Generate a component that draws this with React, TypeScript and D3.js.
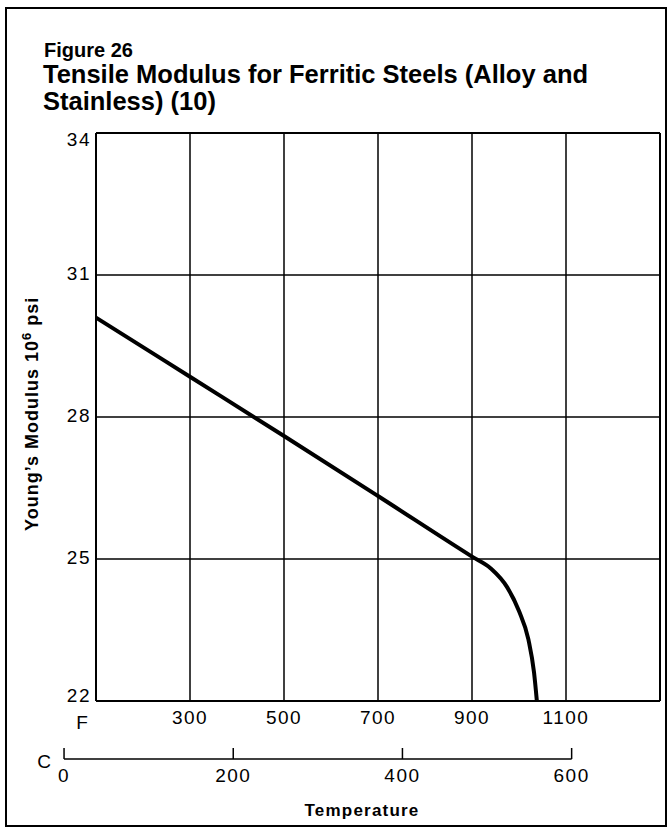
import React from "react";
import * as d3 from "d3";

// chart values
const tempF = [100, 300, 500, 700, 900, 940, 975, 1000, 1020, 1032, 1038];
const modulus = [30.1, 28.85, 27.6, 26.33, 25.05, 24.8, 24.4, 23.9, 23.3, 22.6, 22.0];

const fTicks = [300, 500, 700, 900, 1100];
const cTicks = [0, 200, 400, 600];
const yTicks = [22, 25, 28, 31, 34];

const titleLines = ["Tensile Modulus for Ferritic Steels (Alloy and", "Stainless) (10)"];

function App() {
  const width = 668;
  const height = 828;
  const margin = { top: 133, right: 8, bottom: 127, left: 96 };

  const x = d3.scaleLinear().domain([100, 1300]).range([margin.left, width - margin.right]);
  const y = d3.scaleLinear().domain([22, 34]).range([height - margin.bottom, margin.top]);
  // celsius axis sits on the fahrenheit scale
  const toF = (c: number) => (c * 9) / 5 + 32;

  const line = d3
    .line<number>()
    .x((d, i) => x(tempF[i]))
    .y((d) => y(d))
    .curve(d3.curveMonotoneX);

  const plotBottom = y(22);
  const cAxisY = 759;
  const font = "'Liberation Sans', Arial, Helvetica, sans-serif";

  return (
    <svg
      width={width}
      height={height}
      style={{ position: "absolute", left: 0, top: 0, background: "#fff" }}
      fontFamily={font}
    >
      {/* outer frame */}
      <rect x={6} y={8} width={660} height={818} fill="none" stroke="#000" strokeWidth={2} />

      <text x={44} y={57} fontSize={20} fontWeight="bold">
        Figure 26
      </text>
      {titleLines.map((t, i) => (
        <text key={t} x={43} y={83 + i * 27} fontSize={25.5} fontWeight="bold">
          {t}
        </text>
      ))}

      {/* grid */}
      {fTicks.map((f) => (
        <line key={f} x1={x(f)} x2={x(f)} y1={y(34)} y2={plotBottom} stroke="#000" strokeWidth={1.5} />
      ))}
      {yTicks.map((v) => (
        <line key={v} x1={x(100)} x2={x(1300)} y1={y(v)} y2={y(v)} stroke="#000" strokeWidth={v === 22 || v === 34 ? 2 : 1.5} />
      ))}
      <line x1={x(100)} x2={x(100)} y1={y(34)} y2={plotBottom} stroke="#000" strokeWidth={2} />
      <line x1={x(1300)} x2={x(1300)} y1={y(34)} y2={plotBottom} stroke="#000" strokeWidth={2} />

      {/* y labels */}
      {yTicks.map((v) => (
        <text
          key={v}
          x={91}
          y={y(v) + (v === 34 ? 6 : v === 22 ? -6 : -2)}
          dy="0.35em"
          textAnchor="end"
          fontSize={19}
          letterSpacing={1.5}
        >
          {v}
        </text>
      ))}
      <text transform={`translate(38, 531) rotate(-90)`} fontSize={18} fontWeight="bold" letterSpacing={1}>
        Young’s Modulus 10
        <tspan dy={-7} fontSize={13}>
          6
        </tspan>
        <tspan dy={7}> psi</tspan>
      </text>

      {/* fahrenheit labels */}
      <text x={82} y={729} textAnchor="middle" fontSize={19}>
        F
      </text>
      {fTicks.map((f) => (
        <text key={f} x={x(f)} y={724} textAnchor="middle" fontSize={19} letterSpacing={1.5}>
          {f}
        </text>
      ))}

      {/* celsius axis */}
      <text x={44} y={768} textAnchor="middle" fontSize={19}>
        C
      </text>
      <line x1={x(toF(0))} x2={x(toF(600))} y1={cAxisY} y2={cAxisY} stroke="#000" strokeWidth={1.5} />
      {cTicks.map((c) => (
        <g key={c}>
          <line x1={x(toF(c))} x2={x(toF(c))} y1={cAxisY - 11} y2={cAxisY} stroke="#000" strokeWidth={1.5} />
          <text x={x(toF(c))} y={782} textAnchor="middle" fontSize={19} letterSpacing={1.5}>
            {c}
          </text>
        </g>
      ))}
      <text x={362} y={816} textAnchor="middle" fontSize={17} fontWeight="bold" letterSpacing={1.2}>
        Temperature
      </text>

      {/* modulus curve */}
      <path d={line(modulus) || ""} fill="none" stroke="#000" strokeWidth={4} strokeLinecap="butt" />
    </svg>
  );
}

export default App;
